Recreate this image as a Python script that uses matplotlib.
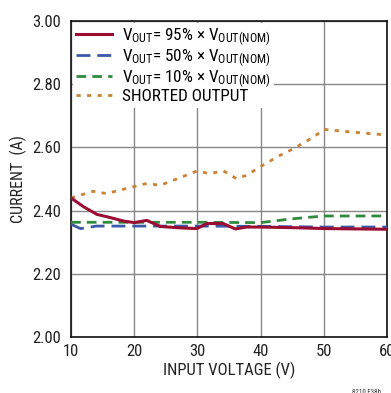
import matplotlib
matplotlib.use("Agg")
import matplotlib.pyplot as plt

plt.rcParams["font.family"] = ["Roboto Condensed", "DejaVu Sans"]

# Current limit vs input voltage
v95 = [10, 12, 14.1, 16.2, 18.3, 20, 22, 24.1, 26.7, 29.9, 31.5, 34.1, 36, 37.8, 39.9, 45.2, 50.5, 60]
i95 = [2.440, 2.412, 2.388, 2.378, 2.367, 2.362, 2.369, 2.350, 2.346, 2.343, 2.359, 2.359, 2.342, 2.348, 2.348, 2.346, 2.343, 2.341]

v50 = [10, 11.5, 14, 20, 30, 40, 50, 60]
i50 = [2.357, 2.343, 2.351, 2.351, 2.351, 2.350, 2.348, 2.348]

v10 = [10, 20, 30, 40, 45, 50, 55, 60]
i10 = [2.363, 2.363, 2.363, 2.362, 2.374, 2.383, 2.383, 2.383]

vsh = [10, 13.5, 15.6, 18.8, 22, 24.1, 26.2, 29.9, 32, 34.1, 36.2, 37.8, 39.9, 42.6, 45.2, 48.4, 50, 53.1, 60]
ish = [2.440, 2.461, 2.454, 2.470, 2.486, 2.480, 2.496, 2.525, 2.517, 2.526, 2.501, 2.512, 2.538, 2.570, 2.596, 2.633, 2.657, 2.651, 2.639]

x_ticks = [10, 20, 30, 40, 50, 60]
y_ticks = [2.00, 2.20, 2.40, 2.60, 2.80, 3.00]

fig = plt.figure(figsize=(3.91, 3.93), dpi=100)
ax = fig.add_axes([71 / 391, 1 - 337 / 393, 316 / 391, 316 / 393])

VO = r"$\mathregular{V_{OUT}}$"
VN = r"$\mathregular{V_{OUT(NOM)}}$"
ax.plot(v95, i95, color="#9b0d33", lw=2.2, label=f"{VO}= 95% × {VN}", zorder=5)
ax.plot(v50, i50, color="#3a5aa8", lw=2.0, dashes=(5, 2.5), label=f"{VO}= 50% × {VN}", zorder=3)
ax.plot(v10, i10, color="#2f8a3e", lw=2.0, dashes=(3.5, 2.2), label=f"{VO}= 10% × {VN}", zorder=4)
ax.plot(vsh, ish, color="#c98236", lw=2.0, dashes=(1.5, 2.3), label="SHORTED OUTPUT", zorder=4)

ax.set_xlim(10, 60)
ax.set_ylim(2.0, 3.0)
ax.set_xticks(x_ticks)
ax.set_yticks(y_ticks)
ax.set_xticklabels([str(t) for t in x_ticks])
ax.set_yticklabels([f"{t:.2f}" for t in y_ticks])
ax.tick_params(axis="y", length=0, labelsize=12, pad=7, colors="#222222")
ax.tick_params(axis="x", length=0, labelsize=12, pad=5, colors="#222222")
ax.grid(True, color="#888888", lw=1.0)
ax.set_axisbelow(True)
for s in ax.spines.values():
    s.set_color("#111111")
    s.set_linewidth(1.2)

ax.set_xlabel("INPUT VOLTAGE (V)", fontsize=12, color="#222222", labelpad=2)
ax.set_ylabel("CURRENT  (A)", fontsize=11.5, color="#222222", labelpad=4)

leg = ax.legend(loc="upper left", frameon=True, fontsize=12.3, handlelength=2.1,
                handletextpad=0.6, labelspacing=-0.05, borderaxespad=0.1,
                borderpad=0.2, fancybox=False, framealpha=1.0)
leg.get_frame().set_edgecolor("white")
leg.get_frame().set_linewidth(0)
leg.set_zorder(10)

fig.text(352 / 391, 1 - 392 / 393, "8210 F38b", fontsize=5, color="#333333", va="center")

fig.savefig("out.png", dpi=100)
